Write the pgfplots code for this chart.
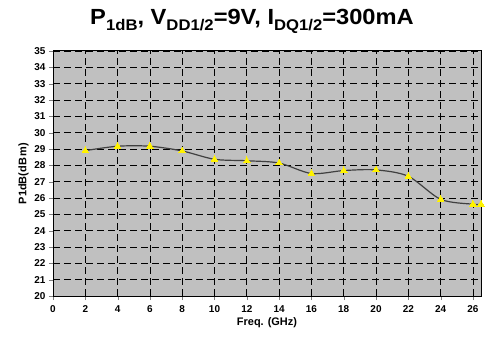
\documentclass[border=0pt]{standalone}
\usepackage{pgfplots}
\pgfplotsset{compat=1.18}
\usepackage{fontspec}
\setmainfont{Liberation Sans}
\definecolor{bggray}{HTML}{C0C0C0}
\definecolor{linegray}{HTML}{404040}
\newcommand{\sub}[1]{\raisebox{-0.28em}{\fontsize{15.5}{15.5}\selectfont #1}}
\begin{document}
\begin{tikzpicture}
\useasboundingbox (0,0) rectangle (487bp,341bp);
\node[font=\bfseries\fontsize{22}{24}\selectfont, inner sep=0pt] at (252bp,320bp) {\scalebox{1.08}[1]{P\sub{1dB}, V\sub{DD1/2}=9V, I\sub{DQ1/2}=300mA}};
\begin{axis}[
  at={(53bp,45bp)}, anchor=south west,
  scale only axis, width=428bp, height=245bp,
  xmin=0, xmax=26.5, ymin=20, ymax=35,
  xtick={0,2,...,26}, ytick={20,21,...,35},
  tick align=outside, tick pos=left,
  major tick length=4bp,
  axis background/.style={fill=bggray},
  axis line style={black, line width=1pt},
  grid=major,
  major grid style={black, dash pattern=on 7bp off 4bp, line width=0.8pt},
  /pgf/number format/assume math mode=true,
  ticklabel style={font=\bfseries\fontsize{10}{11}\selectfont},
  xlabel={Freq. (GHz)}, ylabel={P1dB(dB\,m)},
  label style={font=\bfseries\fontsize{11}{12}\selectfont},
  xlabel style={yshift=2bp},
  ylabel style={yshift=-1bp},
  xticklabel style={yshift=-2bp},
]
\addplot[linegray, line width=1.2pt, smooth, mark=triangle*, mark size=3.8bp,
  mark options={fill=yellow, draw=yellow, line width=0pt}]
coordinates {
(2,28.9) (4,29.17) (6,29.17) (8,28.88) (10,28.37) (12,28.28) (14,28.14)
(16,27.5) (18,27.68) (20,27.72) (22,27.33) (24,25.92) (26,25.62) (26.5,25.62)
};
\end{axis}
\end{tikzpicture}
\end{document}
